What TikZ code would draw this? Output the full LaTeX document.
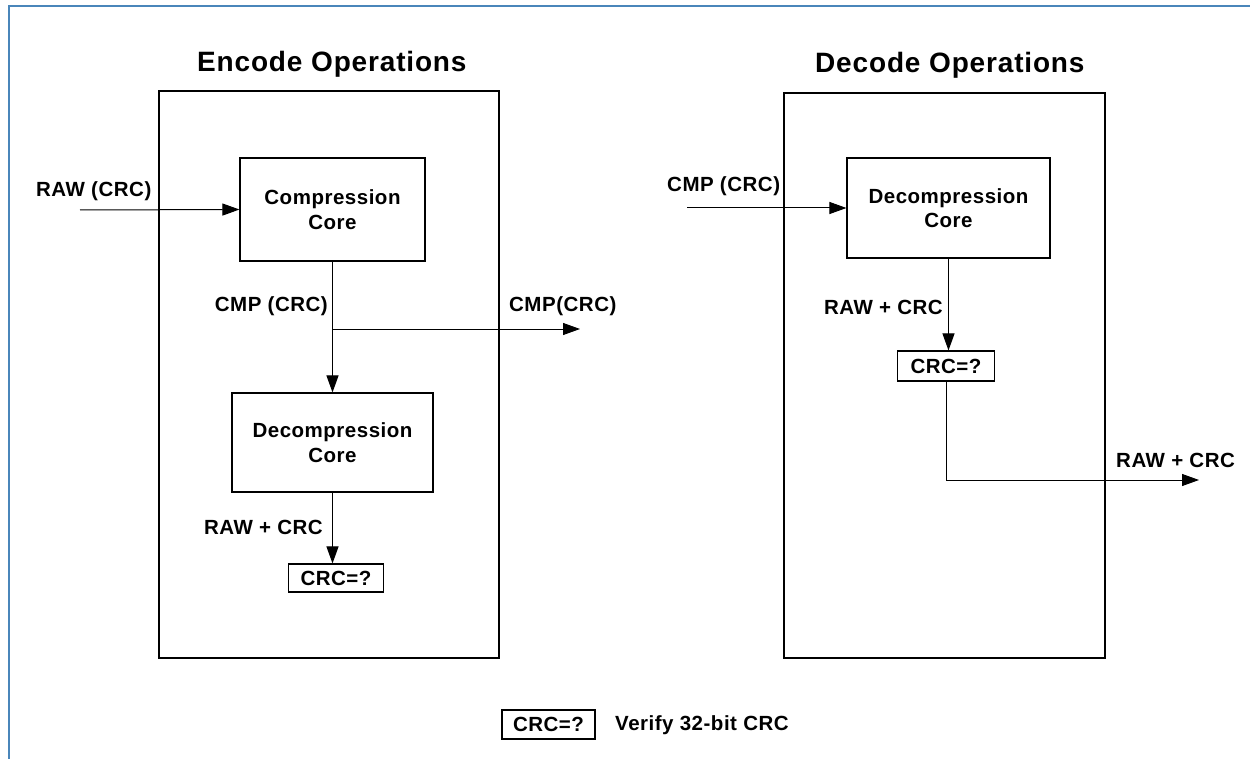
\documentclass[tikz,border=0pt]{standalone}
\usepackage{fontspec}
\setmainfont{Liberation Sans}
\usetikzlibrary{arrows.meta}
\definecolor{frameblue}{RGB}{74,134,186}
\newcommand{\lblfont}{\bfseries\fontsize{20.5}{24.5}\selectfont\addfontfeature{LetterSpace=2.5}}
\newcommand{\ttlfont}{\bfseries\fontsize{28}{32}\selectfont\addfontfeature{LetterSpace=3}}
\begin{document}
\begin{tikzpicture}[x=1pt,y=-1pt,
  blk/.style={draw=black, line width=1.1pt, inner sep=0pt, align=center, font=\lblfont},
  lbl/.style={inner sep=0pt, font=\lblfont},
  ttl/.style={inner sep=0pt, font=\ttlfont},
  arr/.style={line width=1pt, -{Triangle[length=17pt,width=12pt]}},
  ln/.style={line width=1pt}]
\useasboundingbox (0,0) rectangle (1250,759);
\fill[white] (0,0) rectangle (1250,759);
\draw[frameblue, line width=2pt] (8.5,759) -- (8.5,6.5) -- (1250,6.5);

% outer boxes and titles
\node[blk, minimum width=340pt, minimum height=567pt] (encbox) at (329,374.5) {};
\node[blk, minimum width=321pt, minimum height=565pt] (decbox) at (944.5,375.5) {};
\node[ttl, anchor=base west] (enctitle) at (197,72) {Encode Operations};
\node[ttl, anchor=base west] (dectitle) at (815,73) {Decode Operations};

% encode side
\node[blk, minimum width=185pt, minimum height=103pt] (comp) at (332.5,209.5) {Compression\\Core};
\node[blk, minimum width=201pt, minimum height=99pt] (encdec) at (332.5,442.5) {Decompression\\Core};
\node[blk, minimum width=95pt, minimum height=28pt] (enccrc) at (336,578) {CRC=?};
\coordinate (rawin) at (80,210);
\coordinate (cmpout) at (580,329);
\draw[arr] (rawin) -- (comp.west);
\draw[arr] (comp.south) -- (encdec.north);
\draw[arr] (comp.south |- cmpout) -- (cmpout);
\draw[arr] (encdec.south) -- (encdec.south |- enccrc.north);
\node[lbl, anchor=base west] (lrawin) at (36,197) {RAW (CRC)};
\node[lbl, anchor=base east] (lcmp) at (328,312) {CMP (CRC)};
\node[lbl, anchor=base west] (lcmpout) at (509,312) {CMP(CRC)};
\node[lbl, anchor=base east] (lrawenc) at (323,534) {RAW + CRC};

% decode side
\node[blk, minimum width=203pt, minimum height=100pt] (dec) at (948.5,208) {Decompression\\Core};
\node[blk, minimum width=97pt, minimum height=30pt] (deccrc) at (946,366) {CRC=?};
\coordinate (cmpin) at (687,208);
\coordinate (rawout) at (1199,480);
\draw[arr] (cmpin) -- (dec.west);
\draw[arr] (dec.south) -- (dec.south |- deccrc.north);
\draw[arr] (deccrc.south) |- (rawout);
\node[lbl, anchor=base west] (lcmpin) at (667,192) {CMP (CRC)};
\node[lbl, anchor=base east] (lrawdec) at (943,315) {RAW + CRC};
\node[lbl, anchor=base west] (lrawout) at (1116,467) {RAW + CRC};

% legend
\node[blk, minimum width=93pt, minimum height=29pt] (legcrc) at (548.5,724.5) {CRC=?};
\node[lbl, anchor=base west] (legtext) at (615,730) {Verify 32-bit CRC};
\end{tikzpicture}
\end{document}
